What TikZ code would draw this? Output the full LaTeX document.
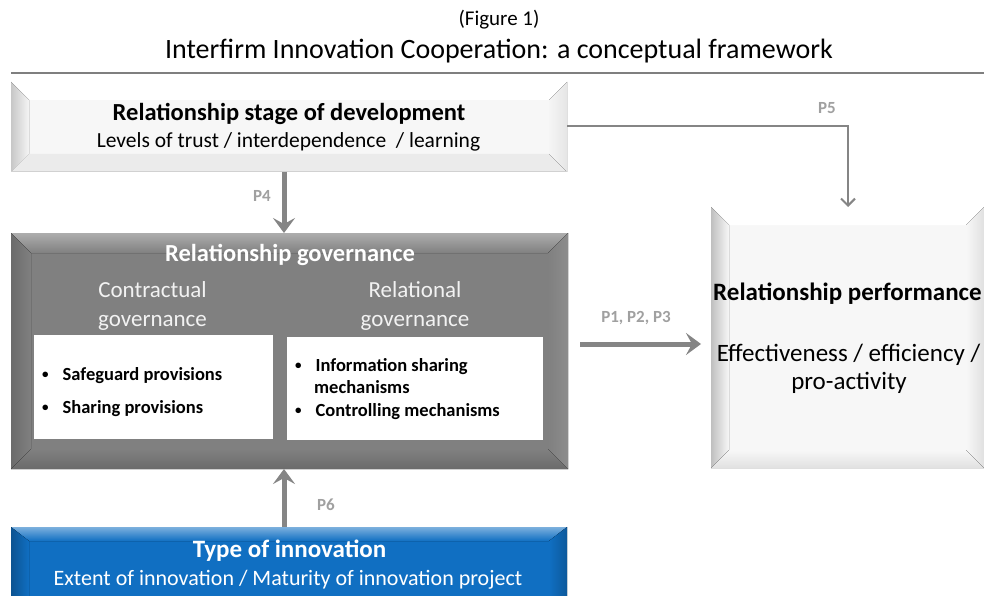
\documentclass[tikz,border=0pt]{standalone}
\usepackage{fontspec}
\setmainfont{Carlito}
\usetikzlibrary{arrows.meta,calc}
\definecolor{arrowgray}{HTML}{858585}
\definecolor{plabel}{HTML}{A0A0A0}
\definecolor{govgray}{HTML}{808080}
\definecolor{innoblue}{HTML}{106FC2}
\definecolor{rulegray}{HTML}{7F7F7F}
\newcommand\fs[1]{\fontsize{#1}{#1}\selectfont}
\newcommand\smallbul{\raisebox{1.5pt}{\fs{13}\textbullet}}
\newcommand\bevelnode[6]{%
  \fill[#3] (#1.north west) -- (#1.north east) -- ([xshift=-#2,yshift=-#2]#1.north east) -- ([xshift=#2,yshift=-#2]#1.north west) -- cycle;
  \fill[#4] (#1.north west) -- ([xshift=#2,yshift=-#2]#1.north west) -- ([xshift=#2,yshift=#2]#1.south west) -- (#1.south west) -- cycle;
  \fill[#5] (#1.south west) -- ([xshift=#2,yshift=#2]#1.south west) -- ([xshift=-#2,yshift=#2]#1.south east) -- (#1.south east) -- cycle;
  \fill[#6] (#1.north east) -- (#1.south east) -- ([xshift=-#2,yshift=#2]#1.south east) -- ([xshift=-#2,yshift=-#2]#1.north east) -- cycle;
}
\begin{document}
\begin{tikzpicture}[x=1pt,y=-1pt,
  boxshape/.style={rectangle,inner sep=0pt,outer sep=0pt},
  txt/.style={inner sep=0pt,anchor=base},
  thickarrow/.style={draw=arrowgray,line width=5pt,-{Stealth[length=15pt,width=22pt,inset=6pt]}},
  thinarrow/.style={draw=arrowgray,line width=2.5pt,-{Straight Barb[length=7pt,width=14pt,line width=2pt]}},
  plab/.style={text=plabel,font=\fs{17}\bfseries,inner sep=0pt},
  bullet/.style={font=\fs{18.5}\bfseries,anchor=base west,inner sep=0pt}]
\useasboundingbox (0,0) rectangle (984,596);
\fill[white] (0,0) rectangle (984,596);

% title
\node[txt] (fig) at (499,26) {\fs{21}(Figure 1)};
\node[txt] (title) at (499,59) {\fs{28}Interfirm Innovation Cooperation: a conceptual framework};
\coordinate (rl) at (11,73);
\coordinate (rr) at (984,73);
\draw[rulegray,line width=2pt] (rl) -- (rr);

% box 1: stage of development
\node[boxshape,fill=white!97!black,minimum width=556pt,minimum height=90pt] (stage) at (289,127) {};
\bevelnode{stage}{18pt}{white}{left color=black!22,right color=white!96!black}{black!8}{left color=white!96!black,right color=white!90!black}
\draw[black!18,line width=1pt] (stage.south west) -- (stage.south east);
\node[txt] (stageT) at (289,121) {\fs{24.5}\bfseries Relationship stage of development};
\node[txt] (stageS) at (288.5,148) {\fs{21.5}Levels of trust / interdependence\ \ / learning};

% box 2: governance
\node[boxshape,fill=govgray,minimum width=557pt,minimum height=236pt] (gov) at (289.5,351) {};
\bevelnode{gov}{20pt}{top color=black!32,bottom color=govgray}{left color=black!58,right color=govgray}{top color=govgray,bottom color=black!58}{left color=govgray,right color=black!45}
\node[txt,text=white] (govT) at (290,261) {\fs{24.5}\bfseries Relationship governance};
\node[txt,text=white!95!black] (contr1) at (152.5,297) {\fs{23}Contractual};
\node[txt,text=white!95!black] (contr2) at (152.5,326) {\fs{23}governance};
\node[txt,text=white!95!black] (relat1) at (415,297) {\fs{23}Relational};
\node[txt,text=white!95!black] (relat2) at (415,326) {\fs{23}governance};
\node[boxshape,fill=white,minimum width=239pt,minimum height=104pt] (cbox) at (153.5,387) {};
\node[boxshape,fill=white,minimum width=256pt,minimum height=103pt] (rbox) at (415,388.5) {};
\node[bullet] (c1) at (42,380) {\smallbul\hspace{14pt}Safeguard provisions};
\node[bullet] (c2) at (42,413) {\smallbul\hspace{14pt}Sharing provisions};
\node[bullet] (r1) at (295,371) {\smallbul\hspace{14pt}Information sharing};
\node[bullet] (r2) at (314,393) {mechanisms};
\node[bullet] (r3) at (295,416) {\smallbul\hspace{14pt}Controlling mechanisms};

% box 3: type of innovation
\node[boxshape,fill=innoblue,minimum width=556pt,minimum height=69pt] (inno) at (289,561.5) {};
\fill[top color=innoblue!55!white,bottom color=innoblue] (inno.north west) -- (inno.north east) -- ([xshift=-18pt,yshift=-14pt]inno.north east) -- ([xshift=18pt,yshift=-14pt]inno.north west) -- cycle;
\fill[left color=innoblue!75!black,right color=innoblue] (inno.north west) -- ([xshift=18pt,yshift=-14pt]inno.north west) -- ([xshift=18pt]inno.south west) -- (inno.south west) -- cycle;
\fill[left color=innoblue,right color=innoblue!80!black] (inno.north east) -- ([xshift=-18pt,yshift=-14pt]inno.north east) -- ([xshift=-18pt]inno.south east) -- (inno.south east) -- cycle;
\node[txt,text=white] (innoT) at (289.5,557) {\fs{25}\bfseries Type of innovation};
\node[txt,text=white] (innoS) at (288,585) {\fs{22}Extent of innovation / Maturity of innovation project};

% box 4: performance
\node[boxshape,fill=white!97!black,minimum width=273pt,minimum height=261pt] (perf) at (847.5,337.5) {};
\bevelnode{perf}{18pt}{white}{left color=black!25,right color=white!97!black}{top color=white!97!black,bottom color=black!12}{left color=white!97!black,right color=black!12}
\node[inner sep=0pt,anchor=base west] (perfT) at (713,300) {\fs{25}\bfseries Relationship performance};
\node[txt] (perfS1) at (848.5,361) {\fs{25}Effectiveness / efficiency /};
\node[txt] (perfS2) at (849,389) {\fs{25}pro-activity};

% connectors
\draw[thickarrow] (stage.south -| 284,0) -- (gov.north -| 284,0);
\node[plab] (p4) at (262,196) {P4};
\draw[thickarrow] (inno.north -| 284,0) -- (gov.south -| 284,0);
\node[plab] (p6) at (326,505) {P6};
\coordinate (p5c) at (848,126);
\draw[thinarrow] (stage.east |- p5c) -- (p5c) -- (perf.north -| p5c);
\node[plab] (p5) at (827,108) {P5};
\coordinate (p123s) at (580,344);
\draw[thickarrow,shorten >=10pt] (p123s) -- (perf.west |- p123s);
\node[plab] (p123) at (636,318) {P1, P2, P3};
\end{tikzpicture}
\end{document}
